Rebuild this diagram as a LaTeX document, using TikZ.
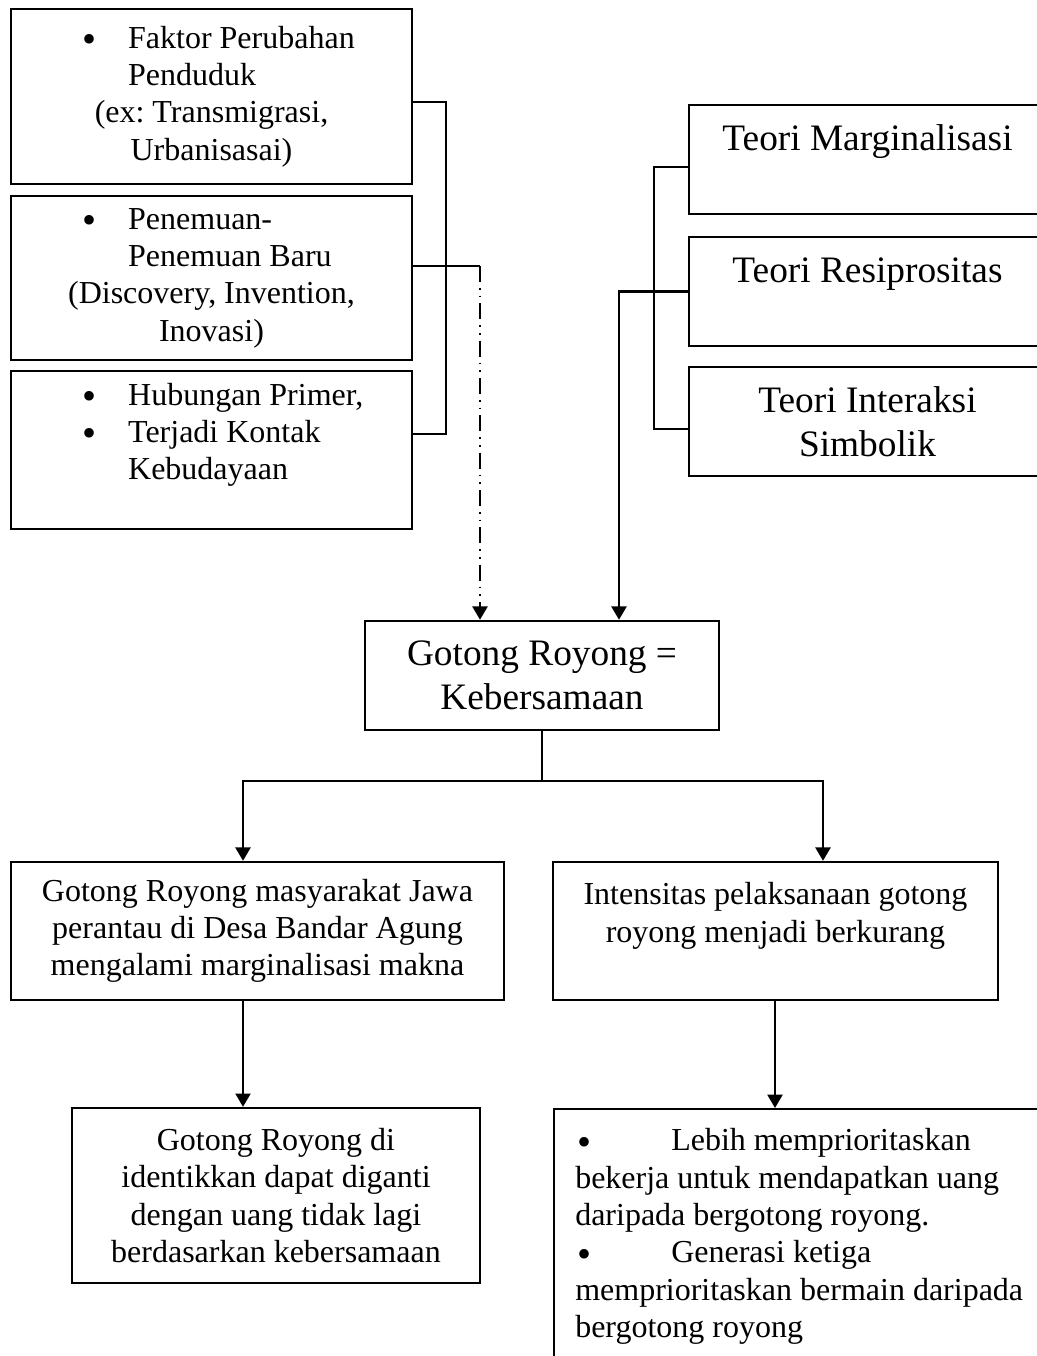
\documentclass[tikz,border=0pt]{standalone}
\usepackage{fontspec}
\setmainfont{Liberation Serif}
\usetikzlibrary{arrows.meta}
\frenchspacing
\newcommand{\bigbul}{\raisebox{-1.6pt}{\fontsize{15}{14}\selectfont\textbullet}}
\newcommand{\bitem}[1]{\makebox[97pt][l]{\makebox[17.25pt][l]{\bigbul}#1}}
\newcommand{\bcont}[1]{\makebox[97pt][l]{\hspace*{17.25pt}#1}}
\newcommand{\tabbul}{\makebox[36pt][l]{\hspace*{1pt}\bigbul}}

\begin{document}
\begin{tikzpicture}[x=0.375pt,y=-0.375pt,line width=0.9pt,
  box/.style={draw,align=center,inner sep=0pt,font=\fontsize{12}{14}\selectfont},
  bigbox/.style={box,font=\fontsize{14}{16.3}\selectfont,minimum width=133.9pt,minimum height=40.9pt},
  arr/.style={-{Triangle[length=5pt,width=5.6pt]}},
  ddline/.style={dash pattern=on 6pt off 2.2pt on 0.7pt off 2.2pt on 0.7pt off 2.2pt}]
\useasboundingbox (0,0) rectangle (1036,1356);

\node[box,minimum width=150.4pt,minimum height=65.6pt] (L1) at (211.5,96.5)
  {\bitem{Faktor Perubahan}\\\bcont{Penduduk}\\(ex: Transmigrasi,\\Urbanisasai)};
\node[box,minimum width=150.4pt,minimum height=61.5pt] (L2) at (211.5,278)
  {\bitem{Penemuan-}\\\bcont{Penemuan Baru}\\(Discovery, Invention,\\Inovasi)};
\node[box,minimum width=150.4pt,minimum height=59.25pt] (L3) at (211.5,450)
  {\bitem{Hubungan Primer,}\\\bitem{Terjadi Kontak}\\\bcont{Kebudayaan}\\\mbox{}};

\foreach \nm/\yy/\txt in {R1/159.5/{Teori Marginalisasi\\\mbox{}},
    R2/291.5/{Teori Resiprositas\\\mbox{}}, R3/421.5/{Teori Interaksi\\Simbolik}}
  \node[bigbox] (\nm) at (867.5,\yy) {\txt};

\node[bigbox,minimum width=132.75pt] (G) at (542,675.5) {Gotong Royong =\\Kebersamaan};

\node[box,minimum width=184.9pt,minimum height=51.75pt] (ML) at (257.5,931)
  {Gotong Royong masyarakat Jawa\\perantau di Desa Bandar Agung\\mengalami marginalisasi makna};
\node[box,minimum width=166.9pt,minimum height=51.75pt] (MR) at (775.5,931)
  {Intensitas pelaksanaan gotong\\royong menjadi berkurang\\\mbox{}};
\node[box,minimum width=153pt,minimum height=65.6pt] (BL) at (276,1195.5)
  {Gotong Royong di\\identikkan dapat diganti\\dengan uang tidak lagi\\berdasarkan kebersamaan};
\node[box,anchor=north west,align=flush left,text width=185pt,inner xsep=7.9pt,inner ysep=7.25pt] (BR) at (553,1108)
  {\tabbul Lebih memprioritaskan\\bekerja untuk mendapatkan uang\\daripada bergotong royong.\\\tabbul Generasi ketiga\\memprioritaskan bermain daripada\\bergotong royong\\\mbox{}};

\coordinate (lbus) at (446,0);
\coordinate (ldrop) at (480,0);
\coordinate (rbus) at (654,0);
\coordinate (rdrop) at (619,0);
\coordinate (split) at (542,781);
\coordinate (la) at (243,0);
\coordinate (ra) at (823,0);
\coordinate (rb) at (775,0);
\coordinate (l1c) at ([yshift=-2pt]L1.east);
\coordinate (l2c) at ([yshift=4.5pt]L2.east);
\coordinate (l3c) at ([yshift=6pt]L3.east);
\coordinate (r1c) at ([yshift=-2.8pt]R1.west);
\coordinate (r3c) at ([yshift=-2.8pt]R3.west);

\draw (l1c) -| (lbus |- l3c) -- (l3c);
\draw (l2c) -- (l2c -| ldrop);
\draw[arr,ddline] (l2c -| ldrop) -- (G.north -| ldrop);
\draw (r1c) -| (rbus |- r3c) -- (r3c);
\draw[arr] (R2.west) -| (G.north -| rdrop);
\draw (G.south) -- (split);
\draw[arr] (split) -| (ML.north -| la);
\draw[arr] (split) -| (MR.north -| ra);
\draw[arr] (ML.south -| la) -- (BL.north -| la);
\draw[arr] (MR.south -| rb) -- (BR.north -| rb);
\end{tikzpicture}
\end{document}
